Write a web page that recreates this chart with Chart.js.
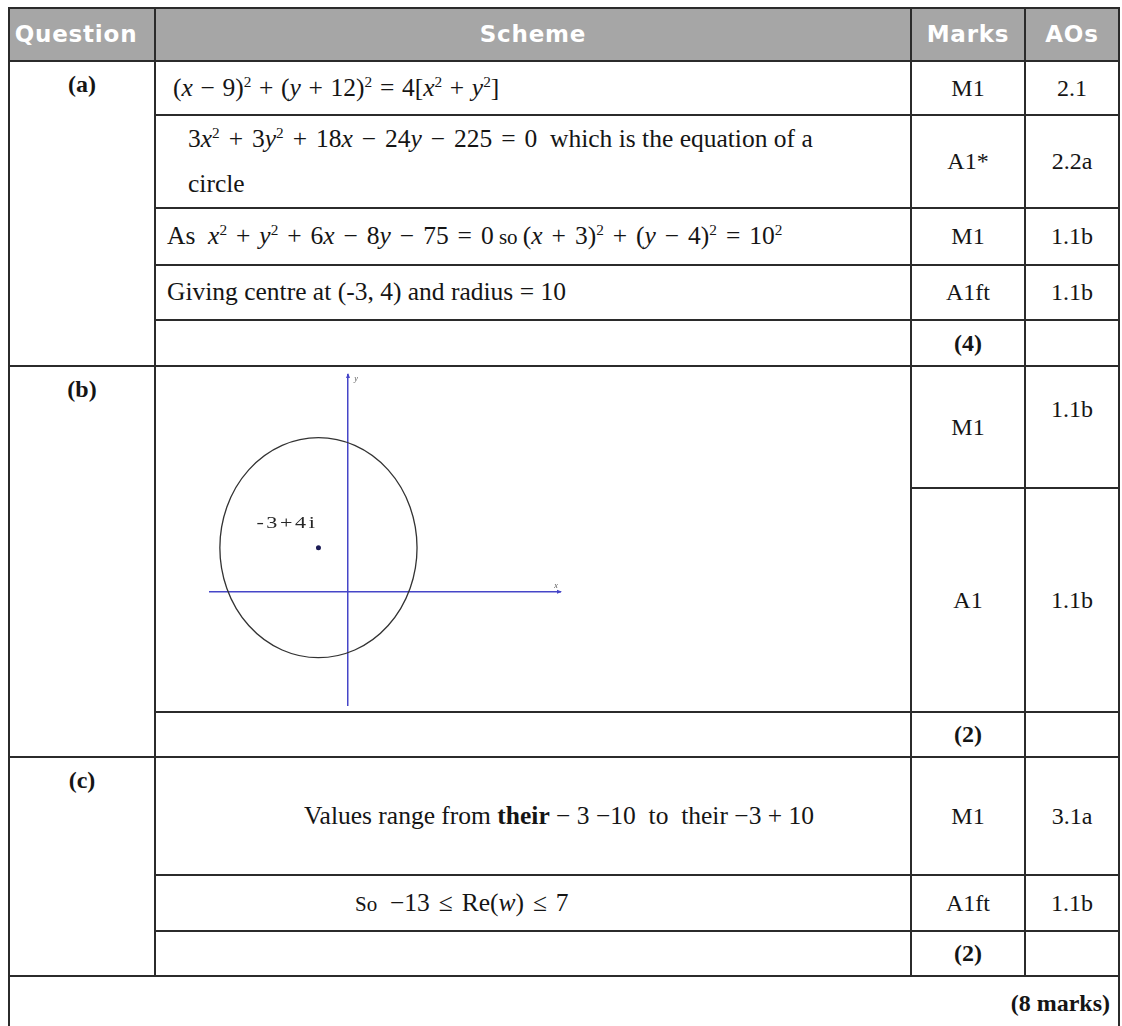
<!DOCTYPE html>
<html>
<head>
<meta charset="utf-8">
<script src="https://cdn.jsdelivr.net/npm/chart.js@4.4.0/dist/chart.umd.min.js"></script>
<style>
  body { margin: 0; background: #fff; width: 1122px; height: 1026px; overflow: hidden; position: relative; }
  table.ms {
    position: absolute; left: 8px; top: 7px; width: 1110px;
    border-collapse: collapse; table-layout: fixed;
    font-family: "Liberation Serif", "Times New Roman", serif; font-size: 24px; color: #151515;
  }
  .ms td, .ms th { border: 2px solid #2b2b2b; padding: 0; line-height: 1.2; }
  .ms th {
    background: #a6a6a6; color: #fff; height: 51px;
    font-family: "DejaVu Sans", Verdana, sans-serif; font-weight: bold; font-size: 23px; letter-spacing: 0.8px;
  }
  .ms th.first { padding-right: 12px; }
  .ms td.q { text-align: center; vertical-align: top; font-weight: bold; padding-top: 8px; }
  .ms td.mk, .ms td.ao { text-align: center; vertical-align: middle; }
  .ms td.top { vertical-align: top; padding-top: 28px; }
  .ms td.s { vertical-align: middle; white-space: nowrap; font-size: 25.5px; }
  .b { font-weight: bold; }
  .ms td.tot { text-align: right; vertical-align: top; font-weight: bold; padding: 12px 8px 0 0; border-bottom: none; }
  sup { font-size: 0.6em; vertical-align: baseline; position: relative; top: -0.58em; }
  .o { margin: 0 0.3em; }
  .wide .o { margin: 0 0.35em; }
  .sm { font-size: 21px; }
  #sketch { position: absolute; left: 155px; top: 367px; width: 754px; height: 344px; }
</style>
</head>
<body>
<table class="ms">
  <colgroup><col style="width:146px"><col style="width:756px"><col style="width:114px"><col style="width:94px"></colgroup>
  <tr><th class="first">Question</th><th>Scheme</th><th>Marks</th><th>AOs</th></tr>
  <tr style="height:54px">
    <td class="q" rowspan="5">(a)</td>
    <td class="s" style="padding-left:17px">(<i>x</i><span class="o">−</span>9)<sup>2</sup><span class="o">+</span>(<i>y</i><span class="o">+</span>12)<sup>2</sup><span class="o">=</span>4[<i>x</i><sup>2</sup><span class="o">+</span><i>y</i><sup>2</sup>]</td>
    <td class="mk">M1</td><td class="ao">2.1</td>
  </tr>
  <tr style="height:93px">
    <td class="s wide" style="padding-left:32px; line-height:42px">3<i>x</i><sup>2</sup><span class="o">+</span>3<i>y</i><sup>2</sup><span class="o">+</span>18<i>x</i><span class="o">−</span>24<i>y</i><span class="o">−</span>225<span class="o">=</span>0&nbsp; which is the equation of a<br>circle</td>
    <td class="mk">A1*</td><td class="ao">2.2a</td>
  </tr>
  <tr style="height:57px">
    <td class="s wide" style="padding-left:11px">As&nbsp; <i>x</i><sup>2</sup><span class="o">+</span><i>y</i><sup>2</sup><span class="o">+</span>6<i>x</i><span class="o">−</span>8<i>y</i><span class="o">−</span>75<span class="o">=</span>0<span class="sm"> so </span>(<i>x</i><span class="o">+</span>3)<sup>2</sup><span class="o">+</span>(<i>y</i><span class="o">−</span>4)<sup>2</sup><span class="o">=</span>10<sup>2</sup></td>
    <td class="mk">M1</td><td class="ao">1.1b</td>
  </tr>
  <tr style="height:55px">
    <td class="s" style="padding-left:11px">Giving centre at (-3, 4) and radius = 10</td>
    <td class="mk">A1ft</td><td class="ao">1.1b</td>
  </tr>
  <tr style="height:46px">
    <td></td><td class="mk b">(4)</td><td></td>
  </tr>
  <tr style="height:122px">
    <td class="q" rowspan="3">(b)</td>
    <td rowspan="2"></td>
    <td class="mk">M1</td><td class="ao top">1.1b</td>
  </tr>
  <tr style="height:224px">
    <td class="mk">A1</td><td class="ao">1.1b</td>
  </tr>
  <tr style="height:45px">
    <td></td><td class="mk b">(2)</td><td></td>
  </tr>
  <tr style="height:118px">
    <td class="q" rowspan="3">(c)</td>
    <td class="s" style="padding-left:148px">Values range from <b>their</b> − 3 −10&nbsp; to&nbsp; their −3 + 10</td>
    <td class="mk">M1</td><td class="ao">3.1a</td>
  </tr>
  <tr style="height:56px">
    <td class="s wide" style="padding-left:199px"><span class="sm">So</span>&nbsp; −13<span class="o">≤</span>Re(<i>w</i>)<span class="o">≤</span>7</td>
    <td class="mk">A1ft</td><td class="ao">1.1b</td>
  </tr>
  <tr style="height:45px">
    <td></td><td class="mk b">(2)</td><td></td>
  </tr>
  <tr style="height:70px">
    <td colspan="4" class="tot">(8 marks)</td>
  </tr>
</table>

<div id="sketch"><canvas id="argand" width="754" height="344"></canvas></div>

<script>
// Argand diagram for part (b): circle |z - (-3+4i)| = 10
const xRange = [-14, 21.5];
const yRange = [-10.3, 19.7];
const centre = [-3, 4];
const radius = 10;
const centreLabel = '-3+4i';
const axisNames = ['x', 'y'];

const sketchPlugin = {
  id: 'sketch',
  beforeDatasetsDraw(chart) {
    const { ctx, scales: { x, y } } = chart;
    const cx = x.getPixelForValue(centre[0]);
    const cy = y.getPixelForValue(centre[1]);
    const rx = x.getPixelForValue(centre[0] + radius) - cx;
    const ry = cy - y.getPixelForValue(centre[1] + radius);
    ctx.save();
    ctx.strokeStyle = '#333';
    ctx.lineWidth = 1.3;
    ctx.beginPath();
    ctx.ellipse(cx, cy, rx, ry, 0, 0, Math.PI * 2);
    ctx.stroke();

    // label next to the centre (the original scan is stretched sideways)
    ctx.fillStyle = '#262626';
    ctx.font = '17px "Liberation Serif", serif';
    if ('letterSpacing' in ctx) ctx.letterSpacing = '2px';
    ctx.textAlign = 'right';
    ctx.textBaseline = 'alphabetic';
    ctx.translate(cx - 1, cy - 20);
    ctx.scale(1.3, 1);
    ctx.fillText(centreLabel, 0, 0);
    ctx.restore();
  },
  afterDraw(chart) {
    const { ctx, scales: { x, y } } = chart;
    const x0 = x.getPixelForValue(0), y0 = y.getPixelForValue(0);
    const xe = x.getPixelForValue(xRange[1]), ye = y.getPixelForValue(yRange[1]);
    ctx.save();
    ctx.fillStyle = '#4646c8';
    ctx.beginPath();
    ctx.moveTo(xe + 2, y0); ctx.lineTo(xe - 3, y0 - 2); ctx.lineTo(xe - 3, y0 + 2); ctx.closePath();
    ctx.fill();
    ctx.beginPath();
    ctx.moveTo(x0, ye - 2); ctx.lineTo(x0 - 2, ye + 3); ctx.lineTo(x0 + 2, ye + 3); ctx.closePath();
    ctx.fill();
    ctx.fillStyle = '#555';
    ctx.font = 'italic 8px "Liberation Serif", serif';
    ctx.textAlign = 'center';
    ctx.fillText(axisNames[0], xe - 4, y0 - 4);
    ctx.fillText(axisNames[1], x0 + 8, ye + 6);
    ctx.restore();
  }
};

new Chart(document.getElementById('argand'), {
  type: 'scatter',
  data: {
    datasets: [{
      label: 'centre',
      data: [{ x: centre[0], y: centre[1] }],
      pointRadius: 2.5,
      pointBackgroundColor: '#1b1b55',
      pointBorderWidth: 0
    }]
  },
  options: {
    responsive: false,
    animation: false,
    layout: { padding: { left: 55, right: 349, top: 8, bottom: 6 } },
    plugins: { legend: { display: false }, tooltip: { enabled: false } },
    scales: {
      x: {
        type: 'linear', min: xRange[0], max: xRange[1],
        position: { y: 0 },
        grid: { display: false, drawTicks: false },
        ticks: { display: false },
        border: { color: '#4646c8', width: 1.5 }
      },
      y: {
        type: 'linear', min: yRange[0], max: yRange[1],
        position: { x: 0 },
        grid: { display: false, drawTicks: false },
        ticks: { display: false },
        border: { color: '#4646c8', width: 1.5 }
      }
    }
  },
  plugins: [sketchPlugin]
});
</script>
</body>
</html>
